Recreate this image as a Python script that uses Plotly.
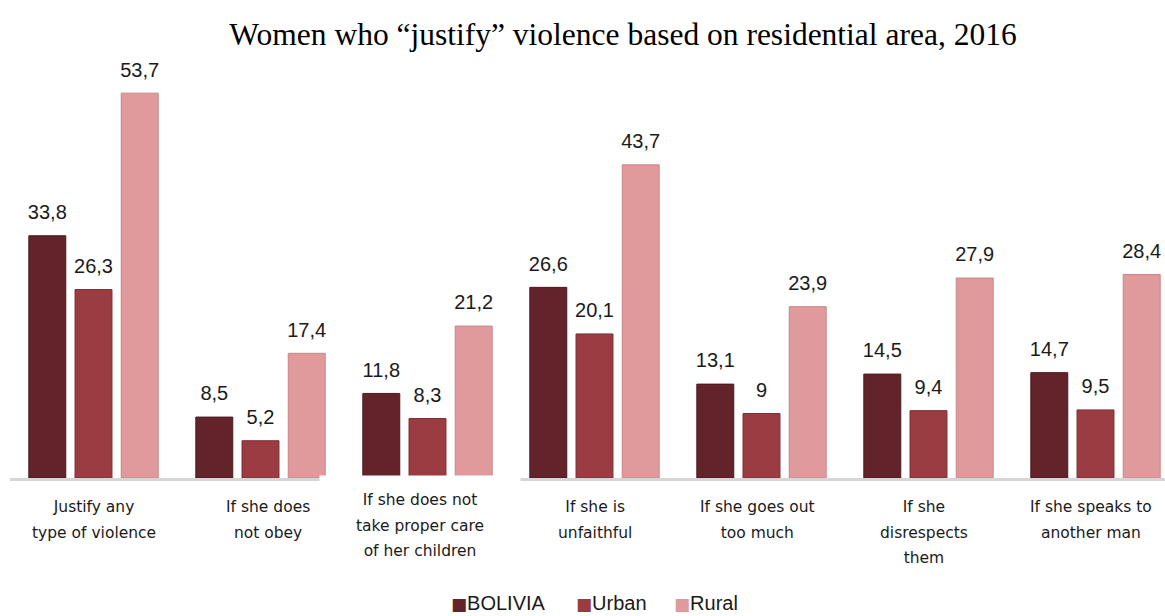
import plotly.graph_objects as go

# ---- data ----
categories = ["c1", "c2", "c3", "c4", "c5", "c6", "c7"]
category_labels = [
    ["Justify any", "type of violence"],
    ["If she does", "not obey"],
    ["If she does not", "take proper care", "of her children"],
    ["If she is", "unfaithful"],
    ["If she goes out", "too much"],
    ["If she", "disrespects", "them"],
    ["If she speaks to", "another man"],
]
series_names = ["BOLIVIA", "Urban", "Rural"]
bolivia = [33.8, 8.5, 11.8, 26.6, 13.1, 14.5, 14.7]
urban = [26.3, 5.2, 8.3, 20.1, 9, 9.4, 9.5]
rural = [53.7, 17.4, 21.2, 43.7, 23.9, 27.9, 28.4]
title_text = "Women who “justify” violence based on residential area, 2016"

# ---- styles ----
colors = ["#62232a", "#9b3c43", "#e09a9c"]
line_colors = ["#4a1a1f", "#7d2f35", "#c98587"]
label_xshift = [0, 7, -8, 0, -4, -5, -5]
W, H = 1165, 616
ML, MR, MT, MB = 10, 0, 48, 138
plot_h = H - MT - MB
GROUP_PX = 167

fig = go.Figure()
series = [bolivia, urban, rural]
for i, (name, vals) in enumerate(zip(series_names, series)):
    fig.add_trace(go.Bar(
        x=categories, y=vals, name=name, offsetgroup=str(i),
        marker=dict(color=colors[i], line=dict(color=line_colors[i], width=1)),
        hoverinfo="skip", showlegend=False,
    ))
for i, (name, vals) in enumerate(zip(series_names, series)):
    fig.add_trace(go.Scatter(
        x=categories, y=vals, name=name, offsetgroup=str(i),
        mode="markers+text", texttemplate="%{y}", textposition="top center",
        marker=dict(size=17, opacity=0, color=colors[i]),
        textfont=dict(family="Liberation Sans, Arial, sans-serif", size=20, color="#1a1a1a"),
        cliponaxis=False, hoverinfo="skip", showlegend=False,
    ))

annotations = []
def py(px):  # pixel from top -> paper y
    return (H - MB - px) / plot_h

for i, (cat, lines) in enumerate(zip(categories, category_labels)):
    txt = "<br>".join(f'<span style="font-size:15.5px">{l}</span>' for l in lines)
    if i == 2:
        annotations.append(dict(
            x=cat, xref="x", y=py(475), yref="paper", yanchor="top", xanchor="center",
            text=txt, showarrow=False, xshift=label_xshift[i],
            font=dict(family="DejaVu Sans", size=19.8, color="#1a1a1a"),
            bgcolor="white", borderpad=15, width=170, height=80, valign="top", align="center",
        ))
    else:
        annotations.append(dict(
            x=cat, xref="x", y=py(496), yref="paper", yanchor="top", xanchor="center",
            text=txt, showarrow=False, xshift=label_xshift[i],
            font=dict(family="DejaVu Sans", size=19.8, color="#1a1a1a"), align="center",
        ))

legend_x = [443, 569, 668]
for name, col, lx in zip(series_names, colors, legend_x):
    annotations.append(dict(
        x=lx / W, xref="paper", y=py(603), yref="paper", xanchor="left", yanchor="middle",
        text=f'<span style="color:{col};font-family:DejaVu Sans;font-size:17px">■</span>{name}',
        showarrow=False,
        font=dict(family="Liberation Sans, Arial, sans-serif", size=20, color="#1a1a1a"),
    ))

plot_w = W - ML - MR
fig.update_layout(
    width=W, height=H,
    margin=dict(l=ML, r=MR, t=MT, b=MB),
    paper_bgcolor="white", plot_bgcolor="white",
    barmode="group", bargap=0.17, bargroupgap=0.2,
    scattermode="group", scattergap=0.17,
    separators=",.",
    title=dict(text=title_text, x=623 / W, xanchor="center", y=1 - 34 / H, yanchor="middle",
               font=dict(family="Liberation Serif, Times New Roman, serif", size=31.5, color="black")),
    xaxis=dict(type="category", range=[-0.5, -0.5 + plot_w / GROUP_PX], showline=True,
               linecolor="#d6d6d6", linewidth=3, showticklabels=False, ticks="", showgrid=False,
               zeroline=False, fixedrange=True),
    yaxis=dict(range=[0, 60], visible=False, fixedrange=True),
    annotations=annotations,
    showlegend=False,
)

fig.write_html("out.html")
